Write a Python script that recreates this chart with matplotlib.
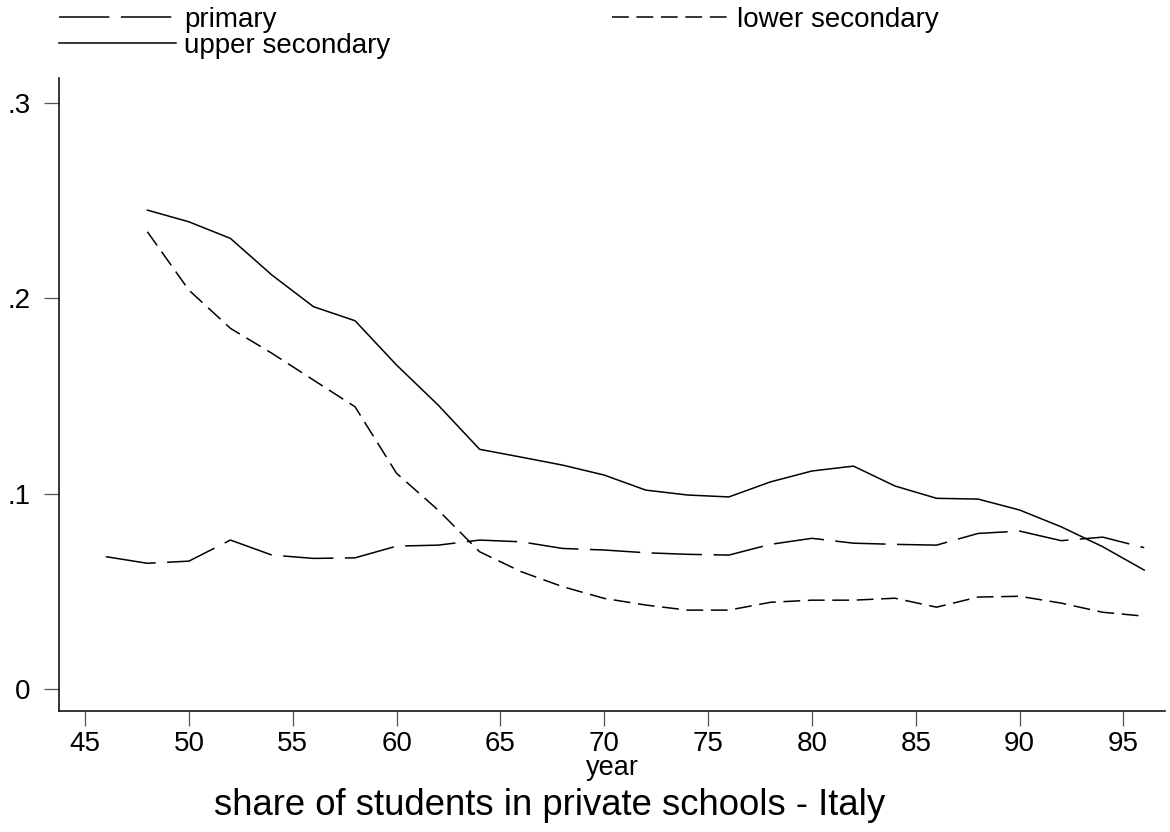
import numpy as np
import matplotlib
matplotlib.use("Agg")
import matplotlib.pyplot as plt

plt.rcParams['font.family'] = ['Liberation Sans', 'DejaVu Sans']

# share of students enrolled in private schools, Italy (year = 19xx)
years_primary = [46, 48, 50, 52, 54, 56, 58, 60, 62, 64, 66, 68, 70, 72, 74,
                 76, 78, 80, 82, 84, 86, 88, 90, 92, 94, 96]
primary = [.0677, .0643, .0654, .0762, .0685, .0668, .0671, .0731, .0736, .0762,
           .0753, .0719, .0711, .0697, .0689, .0685, .0740, .0771, .0746, .0740,
           .0736, .0796, .0808, .0759, .0777, .0723]

years_sec = [48, 50, 52, 54, 56, 58, 60, 62, 64, 66, 68, 70, 72, 74,
             76, 78, 80, 82, 84, 86, 88, 90, 92, 94, 96]
lower_secondary = [.2342, .2043, .1847, .1719, .1582, .1445, .1104, .0916, .0702,
                   .0600, .0523, .0463, .0429, .0403, .0403, .0443, .0454, .0454,
                   .0464, .0418, .0470, .0474, .0439, .0392, .0372]
upper_secondary = [.2453, .2393, .2308, .2120, .1958, .1886, .1659, .1454, .1227,
                   .1187, .1146, .1095, .1018, .0993, .0983, .1060, .1116, .1141,
                   .1039, .0976, .0972, .0916, .0830, .0728, .0608]

xticks = [45, 50, 55, 60, 65, 70, 75, 80, 85, 90, 95]
yticks = [0, .1, .2, .3]
ytick_labels = ['0', '.1', '.2', '.3']

W, H = 1170, 832
fig = plt.figure(figsize=(W / 100, H / 100), dpi=100)
ax = fig.add_axes([59.3 / W, 1 - 711 / H, (1165 - 59.3) / W, (711 - 78) / H])

lw = 1.1
l1, = ax.plot(years_primary, primary, color='black', lw=lw,
              dashes=(33, 7.5), label='primary')
l2, = ax.plot(years_sec, lower_secondary, color='black', lw=lw,
              dashes=(11, 5), label='lower secondary')
l3, = ax.plot(years_sec, upper_secondary, color='black', lw=lw,
              label='upper secondary')

ax.set_xlim(43.76, 97.0)
ax.set_ylim(-0.0114, 0.3130)
ax.set_xticks(xticks)
ax.set_yticks(yticks)
ax.set_yticklabels(ytick_labels)

for side in ['top', 'right']:
    ax.spines[side].set_visible(False)
for side in ['left', 'bottom']:
    ax.spines[side].set_linewidth(1.1)
    ax.spines[side].set_color('black')

ax.tick_params(axis='both', direction='out', length=11, width=0.9,
               color='#555555', labelsize=20, labelcolor='black')
ax.tick_params(axis='x', pad=3.5)
ax.tick_params(axis='y', pad=10)

# axis title and graph title sit below the tick labels
fig.text(612 / W, 1 - 775 / H, 'year', fontsize=19.5, ha='center', va='baseline')
fig.text(550 / W, 1 - 815 / H, 'share of students in private schools - Italy',
         fontsize=26.3, ha='center', va='baseline')

fig.legend(handles=[l1, l3, l2], loc='upper left', ncol=2,
           bbox_to_anchor=(45 / W, 1 + 7 / H), frameon=False,
           fontsize=20, handlelength=4.2, handletextpad=0.32,
           columnspacing=7.95, labelspacing=0.0, borderpad=0.0)

fig.savefig('out.png', dpi=100, facecolor='white')
